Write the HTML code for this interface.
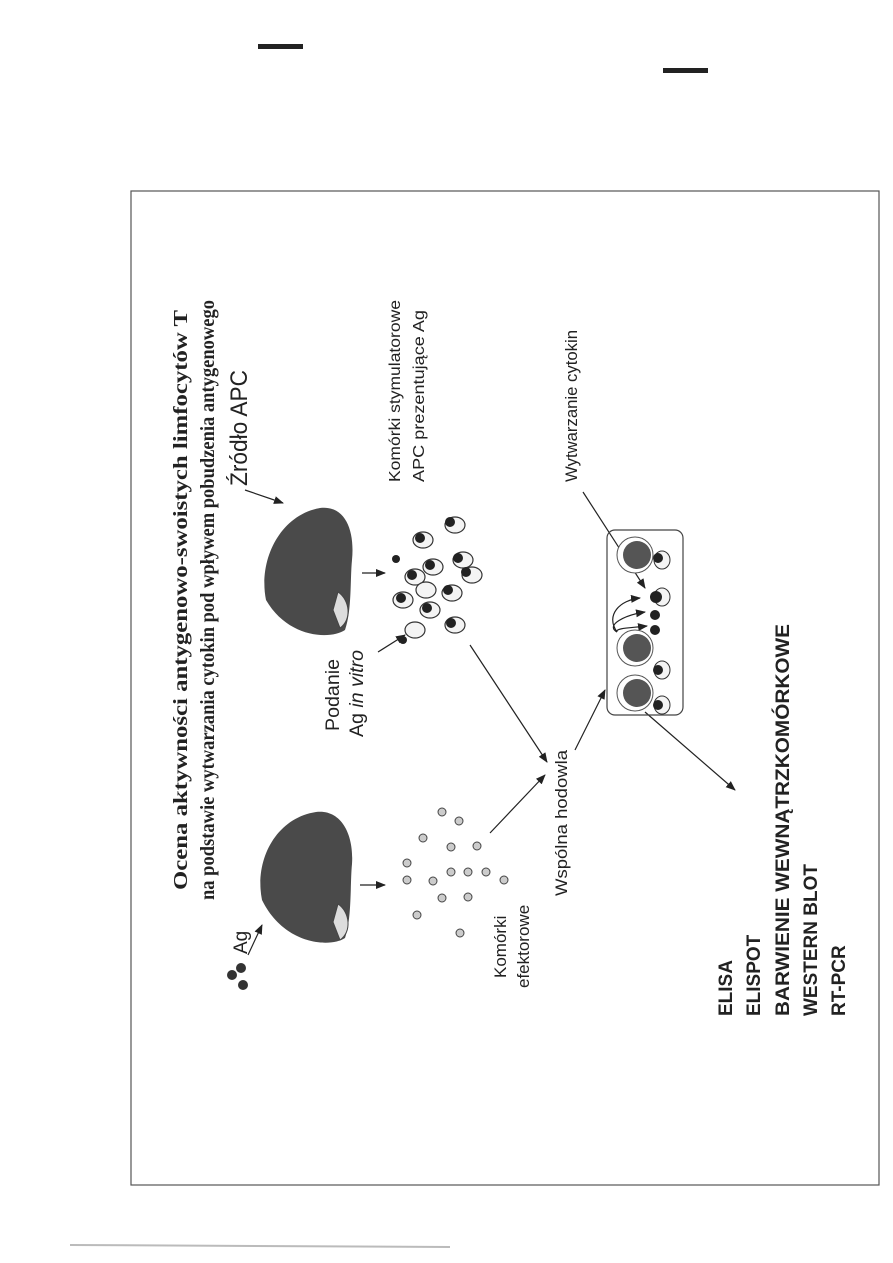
<!DOCTYPE html>
<html><head><meta charset="utf-8"><style>
html,body{margin:0;padding:0;background:#fff}
svg{display:block}
text{font-family:"Liberation Sans",sans-serif;fill:#222}
.s{font-family:"Liberation Serif",serif;font-weight:bold}
</style></head><body>
<svg width="893" height="1263" viewBox="0 0 893 1263" xmlns="http://www.w3.org/2000/svg">
<defs><marker id="a" markerWidth="10" markerHeight="8" refX="9" refY="4" orient="auto" markerUnits="userSpaceOnUse"><path d="M0,0L10,4L0,8z" fill="#222"/></marker></defs>
<rect width="893" height="1263" fill="#fff"/>
<rect x="258" y="44" width="45" height="5" fill="#222"/>
<rect x="663" y="68" width="45" height="5" fill="#222"/>
<rect x="131" y="191" width="748" height="994" fill="none" stroke="#555" stroke-width="1.2"/>
<line x1="70" y1="1245" x2="450" y2="1247" stroke="#bbb" stroke-width="2"/>
<text class="s" font-size="20" transform="translate(187,890) rotate(-90)" textLength="580" lengthAdjust="spacingAndGlyphs">Ocena aktywności antygenowo-swoistych limfocytów T</text>
<text class="s" font-size="20" transform="translate(214,900) rotate(-90)" textLength="600" lengthAdjust="spacingAndGlyphs">na podstawie wytwarzania cytokin pod wpływem pobudzenia antygenowego</text>
<text font-size="24" transform="translate(247,486) rotate(-90)" textLength="116" lengthAdjust="spacingAndGlyphs">Źródło APC</text>
<text font-size="19" transform="translate(247,954) rotate(-90)">Ag</text>
<text font-size="16" transform="translate(400,482) rotate(-90)" textLength="182" lengthAdjust="spacingAndGlyphs">Komórki stymulatorowe</text>
<text font-size="16" transform="translate(424,482) rotate(-90)" textLength="172" lengthAdjust="spacingAndGlyphs">APC prezentujące Ag</text>
<text font-size="19" transform="translate(339,731) rotate(-90)" textLength="72" lengthAdjust="spacingAndGlyphs">Podanie</text>
<text font-size="19" transform="translate(363,737) rotate(-90)" textLength="87" lengthAdjust="spacingAndGlyphs">Ag <tspan font-style="italic">in vitro</tspan></text>
<text font-size="17" transform="translate(577,482) rotate(-90)" textLength="152" lengthAdjust="spacingAndGlyphs">Wytwarzanie cytokin</text>
<text font-size="17" transform="translate(567,896) rotate(-90)" textLength="146" lengthAdjust="spacingAndGlyphs">Wspólna hodowla</text>
<text font-size="17" transform="translate(506,978) rotate(-90)">Komórki</text>
<text font-size="17" transform="translate(529,988) rotate(-90)">efektorowe</text>
<g font-size="19" font-weight="bold">
<text transform="translate(732,1016) rotate(-90)">ELISA</text>
<text transform="translate(760,1016) rotate(-90)">ELISPOT</text>
<text transform="translate(789,1016) rotate(-90)" textLength="392" lengthAdjust="spacingAndGlyphs">BARWIENIE WEWNĄTRZKOMÓRKOWE</text>
<text transform="translate(817,1016) rotate(-90)">WESTERN BLOT</text>
<text transform="translate(845,1016) rotate(-90)">RT-PCR</text>
</g>
<!-- mice -->
<g fill="#4a4a4a">
<path d="M266,600 C258,560 280,515 320,508 C345,505 355,530 352,560 C350,580 352,610 345,630 C330,640 288,638 266,600z"/>
<path d="M262,900 C254,860 276,818 316,812 C341,809 354,834 352,864 C350,884 352,918 345,938 C330,948 284,945 262,900z"/>
</g>
<g fill="#ddd" stroke="#444"><path d="M338,592 C350,600 352,620 340,628 L333,610z"/><path d="M338,904 C350,912 352,932 340,940 L333,922z"/></g>
<!-- Ag dots -->
<g fill="#333"><circle cx="232" cy="975" r="5"/><circle cx="241" cy="968" r="5"/><circle cx="243" cy="985" r="5"/></g>
<!-- arrows -->
<g stroke="#222" stroke-width="1.2" fill="none" marker-end="url(#a)">
<line x1="248" y1="955" x2="262" y2="925"/>
<line x1="245" y1="490" x2="283" y2="503"/>
<line x1="362" y1="573" x2="385" y2="573"/>
<line x1="360" y1="885" x2="385" y2="885"/>
<line x1="378" y1="652" x2="405" y2="635"/>
<line x1="470" y1="645" x2="547" y2="762"/>
<line x1="490" y1="833" x2="545" y2="775"/>
<line x1="575" y1="750" x2="605" y2="690"/>
<line x1="583" y1="492" x2="645" y2="588"/>
<line x1="645" y1="712" x2="735" y2="790"/>
<path d="M617,632 C605,615 620,600 640,598"/>
<path d="M617,632 C605,625 625,615 645,612"/>
<path d="M617,632 C615,628 630,628 647,626"/>
</g>
<!-- APC cells -->
<g>
<circle cx="396" cy="559" r="4" fill="#222"/>
<circle cx="403" cy="640" r="4" fill="#222"/>
<g fill="#f4f4f4" stroke="#333" stroke-width="1.2">
<ellipse cx="455" cy="525" rx="10" ry="8"/><ellipse cx="423" cy="540" rx="10" ry="8"/>
<ellipse cx="463" cy="560" rx="10" ry="8"/><ellipse cx="433" cy="567" rx="10" ry="8"/>
<ellipse cx="415" cy="577" rx="10" ry="8"/><ellipse cx="472" cy="575" rx="10" ry="8"/>
<ellipse cx="426" cy="590" rx="10" ry="8"/><ellipse cx="452" cy="593" rx="10" ry="8"/>
<ellipse cx="403" cy="600" rx="10" ry="8"/><ellipse cx="430" cy="610" rx="10" ry="8"/>
<ellipse cx="455" cy="625" rx="10" ry="8"/><ellipse cx="415" cy="630" rx="10" ry="8"/>
</g>
<g fill="#222">
<circle cx="450" cy="522" r="5"/><circle cx="420" cy="538" r="5"/><circle cx="458" cy="558" r="5"/>
<circle cx="430" cy="565" r="5"/><circle cx="412" cy="575" r="5"/><circle cx="466" cy="572" r="5"/>
<circle cx="448" cy="590" r="5"/><circle cx="401" cy="598" r="5"/><circle cx="427" cy="608" r="5"/>
<circle cx="451" cy="623" r="5"/>
</g>
</g>
<!-- effector cells -->
<g fill="#ccc" stroke="#444" stroke-width="1">
<circle cx="442" cy="812" r="4"/><circle cx="459" cy="821" r="4"/><circle cx="423" cy="838" r="4"/>
<circle cx="451" cy="847" r="4"/><circle cx="477" cy="846" r="4"/><circle cx="407" cy="863" r="4"/>
<circle cx="407" cy="880" r="4"/><circle cx="433" cy="881" r="4"/><circle cx="451" cy="872" r="4"/>
<circle cx="468" cy="872" r="4"/><circle cx="486" cy="872" r="4"/><circle cx="504" cy="880" r="4"/>
<circle cx="442" cy="898" r="4"/><circle cx="468" cy="897" r="4"/><circle cx="417" cy="915" r="4"/>
<circle cx="460" cy="933" r="4"/>
</g>
<!-- plate -->
<rect x="607" y="530" width="76" height="185" rx="8" fill="none" stroke="#444" stroke-width="1.2"/>
<g fill="#fff" stroke="#555"><circle cx="635" cy="555" r="18"/><circle cx="635" cy="648" r="18"/><circle cx="635" cy="693" r="18"/></g>
<g fill="#555"><circle cx="637" cy="555" r="14"/><circle cx="637" cy="648" r="14"/><circle cx="637" cy="693" r="14"/></g>
<g fill="#f4f4f4" stroke="#333"><ellipse cx="662" cy="560" rx="8" ry="9"/><ellipse cx="662" cy="597" rx="8" ry="9"/><ellipse cx="662" cy="670" rx="8" ry="9"/><ellipse cx="662" cy="705" rx="8" ry="9"/></g>
<g fill="#222"><circle cx="658" cy="558" r="5"/><circle cx="656" cy="597" r="6"/><circle cx="655" cy="615" r="5"/><circle cx="655" cy="630" r="5"/><circle cx="658" cy="670" r="5"/><circle cx="658" cy="705" r="5"/></g>
</svg>
</body></html>
